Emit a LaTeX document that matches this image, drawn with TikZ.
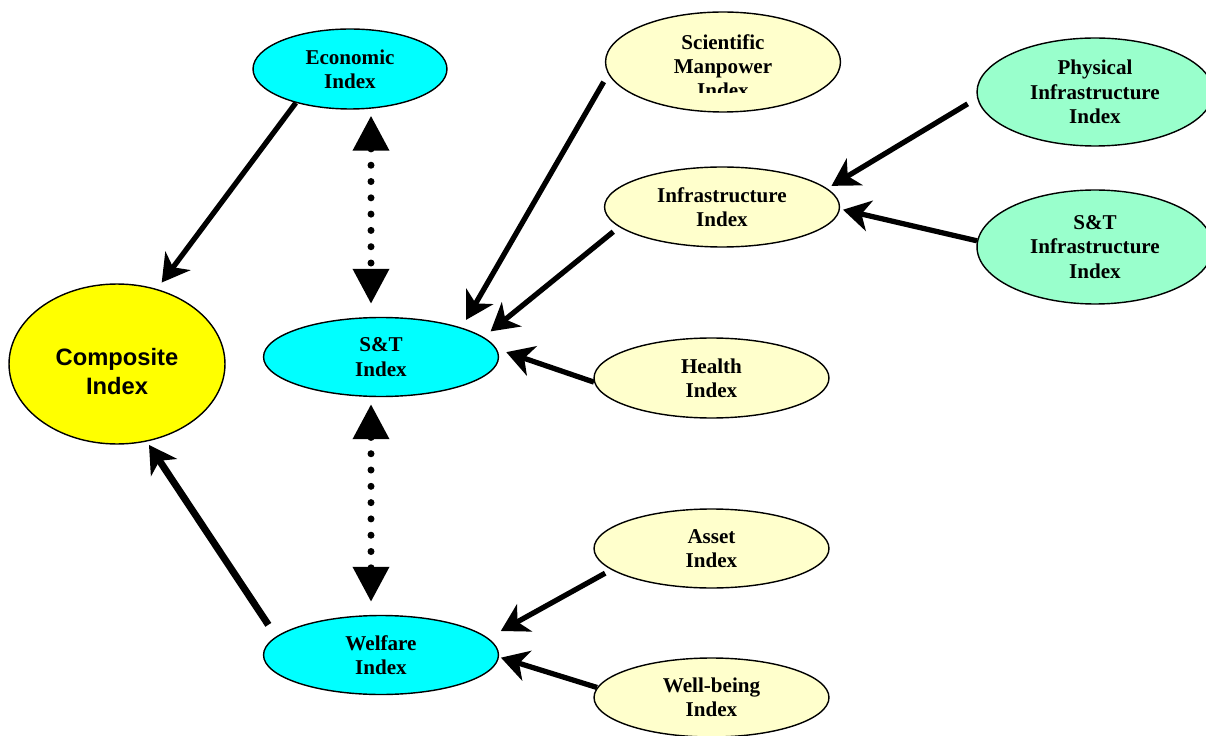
\documentclass[tikz,border=0pt]{standalone}
\usepackage{fontspec}
\setmainfont{Liberation Serif}
\newfontfamily\compsans{Liberation Sans}
\usetikzlibrary{shapes.geometric, arrows.meta}
\definecolor{idxcyan}{HTML}{00FFFF}
\definecolor{idxcream}{HTML}{FFFFCC}
\definecolor{idxmint}{HTML}{99FFCC}
\definecolor{idxyellow}{HTML}{FFFF00}
\newcommand{\idxfont}{\fontsize{12}{13.8}\selectfont\bfseries}

\begin{document}
\begin{tikzpicture}[x=0.02cm, y=-0.02cm,
    idx/.style={ellipse, draw, line width=0.8pt, inner sep=0pt, align=center,
      font=\idxfont, minimum width=4.7cm, minimum height=1.58cm},
    cyanidx/.style={idx, fill=idxcyan},
    creamidx/.style={idx, fill=idxcream},
    mintidx/.style={idx, fill=idxmint, minimum width=4.72cm},
    arr/.style={-{Stealth[length=0.54cm, width=0.62cm, inset=0.16cm]}, line width=3pt},
    dotarr/.style={{Triangle[length=0.7cm, width=0.7cm]}-{Triangle[length=0.7cm, width=0.7cm]},
      line width=0.14cm, line cap=round, dash pattern=on 0pt off 0.326cm}]
  \useasboundingbox (0,0) rectangle (1206,736);
  \clip (0,0) rectangle (1206,736);

  % Composite
  \node[idx, fill=idxyellow, minimum width=4.32cm, minimum height=3.2cm] (comp) at (117,364) {};
  \node[font=\compsans\fontsize{13.5}{16.5}\selectfont\bfseries, align=center] (comptext) at (117,372) {Composite\\Index};

  % middle column
  \node[cyanidx, minimum width=3.88cm, minimum height=1.6cm] (eco) at (350,69) {Economic\\Index};
  \node[cyanidx] (st) at (381,357) {S\&T\\Index};
  \node[cyanidx] (welf) at (381,655) {Welfare\\Index};

  % right column
  \node[creamidx, minimum height=2cm] (sci) at (723,62) {};
  \begin{scope}
    \clip (600,10) rectangle (846,93);
    \node[font=\idxfont, align=center] (scitext) at (723,66) {Scientific\\Manpower\\Index};
  \end{scope}
  \node[creamidx, minimum height=1.6cm] (infra) at (722,207) {Infrastructure\\Index};
  \node[creamidx, minimum height=1.6cm] (health) at (711.5,378) {Health\\Index};
  \node[creamidx] (asset) at (711.5,548.5) {Asset\\Index};
  \node[creamidx] (well) at (711.5,697.5) {Well-being\\Index};

  % far right
  \node[mintidx, minimum height=2.16cm] (phys) at (1095,92) {Physical\\Infrastructure\\Index};
  \node[mintidx, minimum height=2.28cm] (sti) at (1095,247) {S\&T\\Infrastructure\\Index};

  % arrows
  \draw[arr, shorten >=0.16cm] (eco.212) -- (comp.62);
  \draw[arr, line width=4pt, shorten <=0.28cm, shorten >=0.08cm] (welf.170) -- (comp.291);
  \draw[arr, shorten <=0.18cm, shorten >=0.18cm] (sci.186) -- (st.20);
  \draw[arr, shorten <=0.15cm, shorten >=0.18cm] (infra.191) -- (st.11);
  \draw[arr, shorten >=0.2cm] (health.182) -- (st.4);
  \draw[arr, shorten <=0.22cm, shorten >=0.1cm] (phys.183) -- (infra.10);
  \draw[arr, shorten >=0.06cm] (sti.177) -- (infra.-1);
  \draw[arr, shorten <=0.14cm, shorten >=0.29cm] (asset.192) -- (welf.9);
  \draw[arr, shorten >=0.04cm] (well.175) -- (welf.-1);

  % dotted links
  \coordinate (vaxis) at (371,0);
  \draw[dotarr, shorten <=0.12cm, shorten >=0.26cm] (eco.south -| vaxis) -- (st.north -| vaxis);
  \draw[dotarr, shorten <=0.14cm, shorten >=0.26cm] (st.south -| vaxis) -- (welf.north -| vaxis);
\end{tikzpicture}
\end{document}
